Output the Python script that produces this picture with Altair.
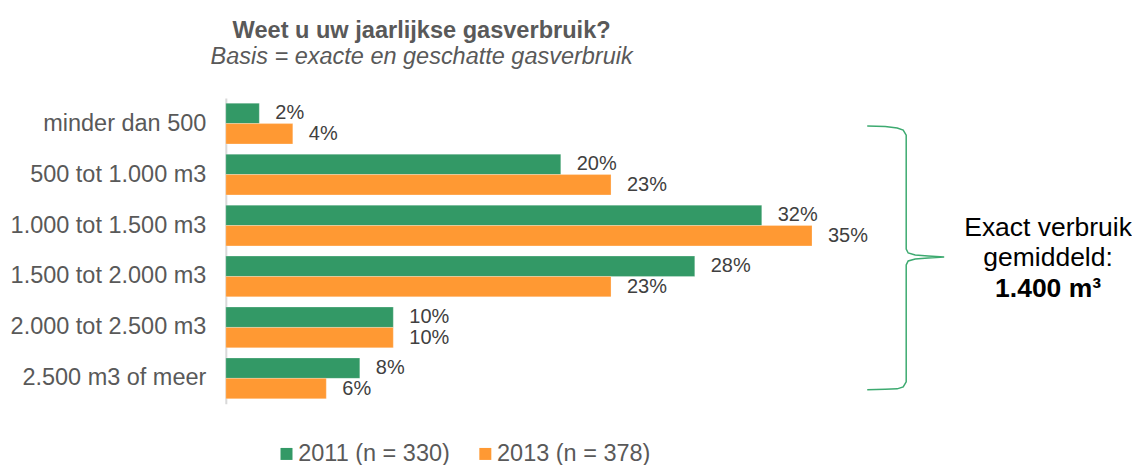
import altair as alt
import pandas as pd

categories = ["minder dan 500", "500 tot 1.000 m3", "1.000 tot 1.500 m3",
              "1.500 tot 2.000 m3", "2.000 tot 2.500 m3", "2.500 m3 of meer"]
series = ["2011 (n = 330)", "2013 (n = 378)"]
values_2011 = [2, 20, 32, 28, 10, 8]
values_2013 = [4, 23, 35, 23, 10, 6]
colors = ["#339966", "#FF9933"]

annotation_lines = ["Exact verbruik", "gemiddeld:"]
annotation_bold = "1.400 m³"

# brace decoration (pixel path relative to plot area)
brace_x = [642, 660, 672, 678, 681, 681, 683, 690, 703, 719, 703, 690, 683, 681, 681, 678, 672, 660, 642]
brace_y = [28, 28.5, 30, 32, 37, 151, 155, 157, 158, 159, 160, 161, 163, 167, 284, 289, 291, 291.5, 292]

rows = []
for c, a, b in zip(categories, values_2011, values_2013):
    rows.append({"cat": c, "series": series[0], "value": a, "label": f"{a}%"})
    rows.append({"cat": c, "series": series[1], "value": b, "label": f"{b}%"})
df = pd.DataFrame(rows)

W, H = 896, 306
FONT = "Liberation Sans"

y_enc = alt.Y("cat:N", sort=categories,
              scale=alt.Scale(paddingInner=0.2, paddingOuter=0.1),
              axis=alt.Axis(title=None, labelFontSize=23.5, labelColor="#595959",
                            labelFont=FONT, domainColor="#d9d9d9", domainWidth=2,
                            ticks=False, labelPadding=20, minExtent=218,
                            maxExtent=218, labelLimit=0))
yoff = alt.YOffset("series:N", sort=series,
                   scale=alt.Scale(paddingInner=0, paddingOuter=0))
x_enc = alt.X("value:Q", scale=alt.Scale(domain=[0, 53.45], nice=False), axis=None)

base = alt.Chart(df)
bars = base.mark_bar(stroke="white", strokeWidth=0.5, strokeOpacity=0.5).encode(
    y=y_enc, yOffset=yoff, x=x_enc,
    color=alt.Color("series:N", sort=series,
                    scale=alt.Scale(domain=series, range=colors),
                    legend=alt.Legend(title=None, orient="none", legendX=49,
                                      legendY=344, direction="horizontal",
                                      symbolType="square", symbolSize=144,
                                      symbolStrokeWidth=0, symbolOpacity=1,
                                      labelFontSize=23.5, labelColor="#595959",
                                      labelFont=FONT, columnPadding=23,
                                      labelOffset=0, padding=0, labelLimit=0)),
)
labels = base.mark_text(align="left", baseline="middle", dx=16, fontSize=20,
                        color="#404040", font=FONT).encode(
    y=alt.Y("cat:N", sort=categories), yOffset=yoff, x=x_enc, text="label:N")

main = alt.layer(bars, labels)

brace_df = pd.DataFrame({"bx": brace_x, "by": brace_y, "i": list(range(len(brace_x)))})
brace = alt.Chart(brace_df).mark_line(color="#3DAA70", strokeWidth=1.5).encode(
    x=alt.X("bx:Q", scale=None, axis=None), y=alt.Y("by:Q", scale=None, axis=None),
    order="i:Q")

anns = []
for line, yy in zip(annotation_lines, [138, 168]):
    anns.append(alt.Chart(pd.DataFrame({"t": [line]})).mark_text(
        align="center", baseline="alphabetic", fontSize=26.5, color="black", font=FONT
    ).encode(x=alt.value(823), y=alt.value(yy), text="t:N"))
anns.append(alt.Chart(pd.DataFrame({"t": [annotation_bold]})).mark_text(
    align="center", baseline="alphabetic", fontSize=26.5, fontWeight="bold",
    color="black", font=FONT
).encode(x=alt.value(823), y=alt.value(199), text="t:N"))

chart = alt.layer(main, brace, *anns).resolve_scale(
    x="independent", y="independent"
).properties(
    width=W, height=H,
    padding={"left": 0, "top": 10, "right": 0, "bottom": 0},
    title=alt.TitleParams(text="Weet u uw jaarlijkse gasverbruik?",
                          subtitle="Basis = exacte en geschatte gasverbruik",
                          fontSize=23.6, fontWeight="bold", color="#595959", font=FONT,
                          subtitleFontSize=23.5, subtitleFontStyle="italic",
                          subtitleColor="#595959", subtitleFont=FONT,
                          anchor="middle", dx=-252, offset=30, subtitlePadding=2),
).configure(font=FONT).configure_view(stroke=None)

chart.save("out.html", embed_options={"renderer": "svg", "actions": False})
